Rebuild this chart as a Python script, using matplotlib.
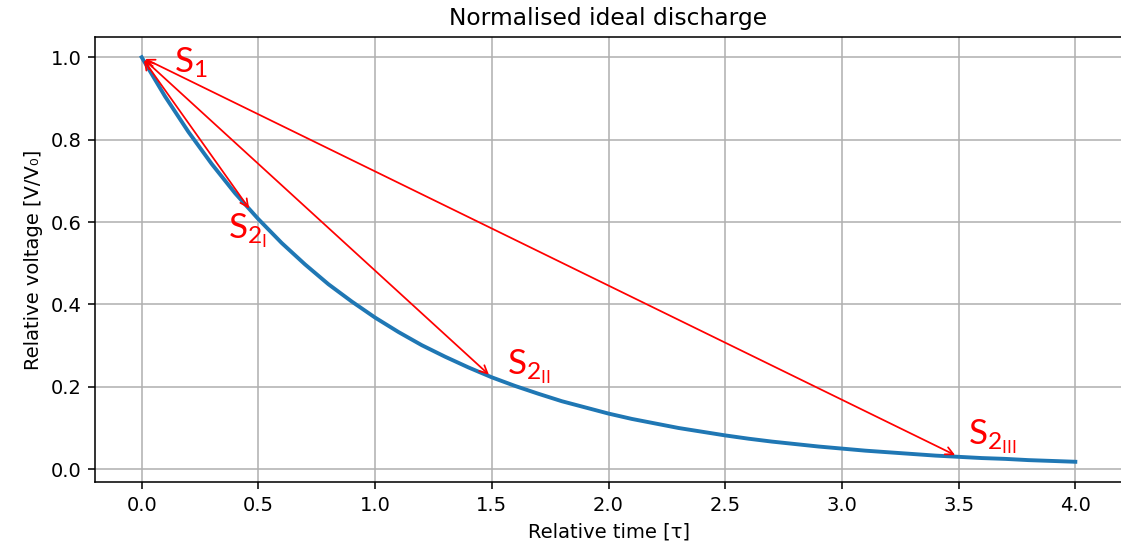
import matplotlib
matplotlib.use("Agg")
import matplotlib.pyplot as plt

# Curve (relative time vs relative voltage)
t_values = [0.0, 0.1, 0.2, 0.3, 0.4, 0.5, 0.6, 0.7, 0.8, 0.9,
            1.0, 1.1, 1.2, 1.3, 1.4, 1.5, 1.6, 1.7, 1.8, 1.9,
            2.0, 2.1, 2.2, 2.3, 2.4, 2.5, 2.6, 2.7, 2.8, 2.9,
            3.0, 3.1, 3.2, 3.3, 3.4, 3.5, 3.6, 3.7, 3.8, 3.9, 4.0]
v_values = [1.000, 0.905, 0.819, 0.741, 0.670, 0.607, 0.549, 0.497, 0.449, 0.407,
            0.368, 0.333, 0.301, 0.273, 0.247, 0.223, 0.202, 0.183, 0.165, 0.150,
            0.135, 0.122, 0.111, 0.100, 0.091, 0.082, 0.074, 0.067, 0.061, 0.055,
            0.050, 0.045, 0.041, 0.037, 0.033, 0.030, 0.027, 0.025, 0.022, 0.020, 0.018]

start_point = (0.0, 1.0)
arrow_t = [0.47, 1.5, 3.5]
arrow_v = [0.625, 0.223, 0.030]
arrow_labels = [r'$\mathrm{S_{2_{I}}}$', r'$\mathrm{S_{2_{II}}}$', r'$\mathrm{S_{2_{III}}}$']
label_t = [0.37, 1.565, 3.54]
label_v = [0.56, 0.228, 0.058]
start_label = r'$\mathrm{S_1}$'
start_label_pos = (0.14, 0.963)

plt.rcParams['mathtext.fontset'] = 'custom'
plt.rcParams['mathtext.rm'] = 'Lato'
plt.rcParams['mathtext.it'] = 'Lato:italic'
plt.rcParams['mathtext.bf'] = 'Lato:bold'

fig = plt.figure(figsize=(1121 / 140, 4.0), dpi=140)
ax = fig.add_axes([95 / 1121, 78 / 560, 1027 / 1121, 445 / 560])

ax.plot(t_values, v_values, color='#1f77b4', lw=2)

for t, v in zip(arrow_t, arrow_v):
    ax.annotate('', xy=(t, v), xytext=start_point,
                arrowprops=dict(arrowstyle='<->', color='red', lw=0.9))

for lab, x, y in zip(arrow_labels, label_t, label_v):
    ax.text(x, y, lab, color='red', fontsize=18, va='baseline', ha='left')
ax.text(start_label_pos[0], start_label_pos[1], start_label, color='red',
        fontsize=18, va='baseline', ha='left')

ax.set_xticks([0.0, 0.5, 1.0, 1.5, 2.0, 2.5, 3.0, 3.5, 4.0])
ax.set_yticks([0.0, 0.2, 0.4, 0.6, 0.8, 1.0])
ax.grid(True)
ax.set_title('Normalised ideal discharge')
ax.set_xlabel('Relative time [τ]')
ax.set_ylabel('Relative voltage [V/V₀]')

fig.savefig('out.png', dpi=140)
